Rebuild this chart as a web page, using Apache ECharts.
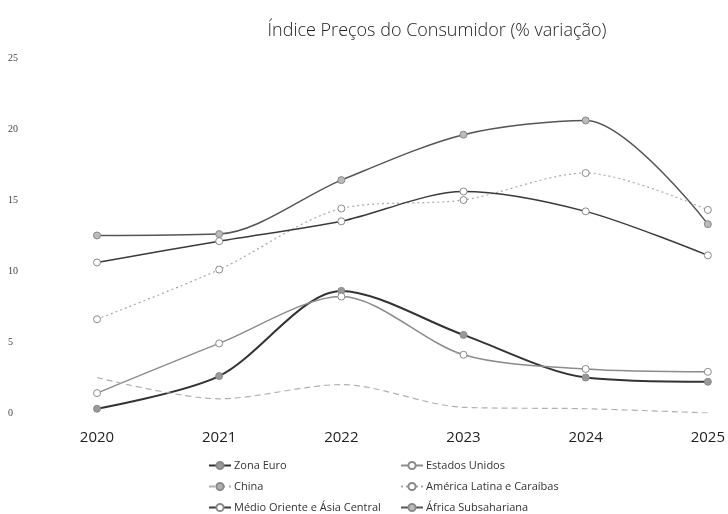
<!DOCTYPE html>
<html>
<head>
<meta charset="utf-8">
<script src="https://cdn.jsdelivr.net/npm/echarts@6/dist/echarts.min.js"></script>
<style>
  html, body { margin: 0; padding: 0; background: #fff; }
  #chart { width: 728px; height: 514px; }
</style>
</head>
<body>
<div id="chart"></div>
<script>
  // anos do eixo x
  const anos = ['2020', '2021', '2022', '2023', '2024', '2025'];

  // valores (% variação)
  const zonaEuro = [0.3, 2.6, 8.6, 5.5, 2.5, 2.2];
  const estadosUnidos = [1.4, 4.9, 8.2, 4.1, 3.1, 2.9];
  const china = [2.5, 1.0, 2.0, 0.4, 0.3, 0.0];
  const americaLatina = [6.6, 10.1, 14.4, 15.0, 16.9, 14.3];
  const medioOriente = [10.6, 12.1, 13.5, 15.6, 14.2, 11.1];
  const africaSub = [12.5, 12.6, 16.4, 19.6, 20.6, 13.3];

  const chart = echarts.init(document.getElementById('chart'));

  function serie(nome, dados, cor, tipo, simbolo, corSimbolo, largura) {
    return {
      name: nome,
      type: 'line',
      smooth: 0.3,
      data: dados,
      symbol: simbolo,
      symbolSize: 7,
      showSymbol: simbolo !== 'none',
      lineStyle: { color: cor, width: largura, type: tipo },
      itemStyle: { color: corSimbolo, borderColor: '#8a8a8a', borderWidth: 1 }
    };
  }

  // uma legenda por item para posicionar as duas colunas
  function legenda(nome, x, y) {
    return {
      left: x,
      top: y,
      data: [nome],
      itemWidth: 22,
      itemHeight: 9,
      itemGap: 2,
      padding: 0,
      textStyle: { fontFamily: 'Open Sans', fontSize: 11, color: '#333', padding: [0, 0, 0, -2] }
    };
  }

  const option = {
    backgroundColor: '#fff',
    animation: false,
    title: {
      text: 'Índice Preços do Consumidor (% variação)',
      left: 432,
      textAlign: 'center',
      top: 17,
      textStyle: { fontFamily: 'Open Sans', fontSize: 18, fontWeight: 300, color: '#222' }
    },
    legend: [
      legenda('Zona Euro', 208, 460),
      legenda('China', 208, 481),
      legenda('Médio Oriente e Ásia Central', 208, 502),
      legenda('Estados Unidos', 400, 460),
      legenda('América Latina e Caraíbas', 400, 481),
      legenda('África Subsahariana', 400, 502)
    ],
    grid: { left: 97, right: 19, top: 58, bottom: 101, containLabel: false },
    xAxis: {
      type: 'category',
      data: anos,
      boundaryGap: false,
      axisLine: { show: false },
      axisTick: { show: false },
      axisLabel: { fontFamily: 'Open Sans', fontSize: 15, color: '#222', margin: 17 }
    },
    yAxis: {
      type: 'value',
      min: 0,
      max: 25,
      interval: 5,
      splitLine: { show: false },
      axisLine: { show: false },
      axisTick: { show: false },
      axisLabel: { fontFamily: 'Liberation Serif', fontSize: 10, color: '#444', align: 'left', margin: 89 }
    },
    series: [
      serie('Zona Euro', zonaEuro, '#333', 'solid', 'circle', '#999', 2),
      serie('Estados Unidos', estadosUnidos, '#8c8c8c', 'solid', 'circle', '#fff', 1.5),
      serie('China', china, '#b0b0b0', [6, 4], 'none', '#b0b0b0', 1.2),
      serie('América Latina e Caraíbas', americaLatina, '#a8a8a8', [2, 3], 'circle', '#fff', 1.2),
      serie('Médio Oriente e Ásia Central', medioOriente, '#3a3a3a', 'solid', 'circle', '#fff', 1.5),
      serie('África Subsahariana', africaSub, '#555', 'solid', 'circle', '#bbb', 1.5)
    ]
  };

  chart.setOption(option);
</script>
</body>
</html>
